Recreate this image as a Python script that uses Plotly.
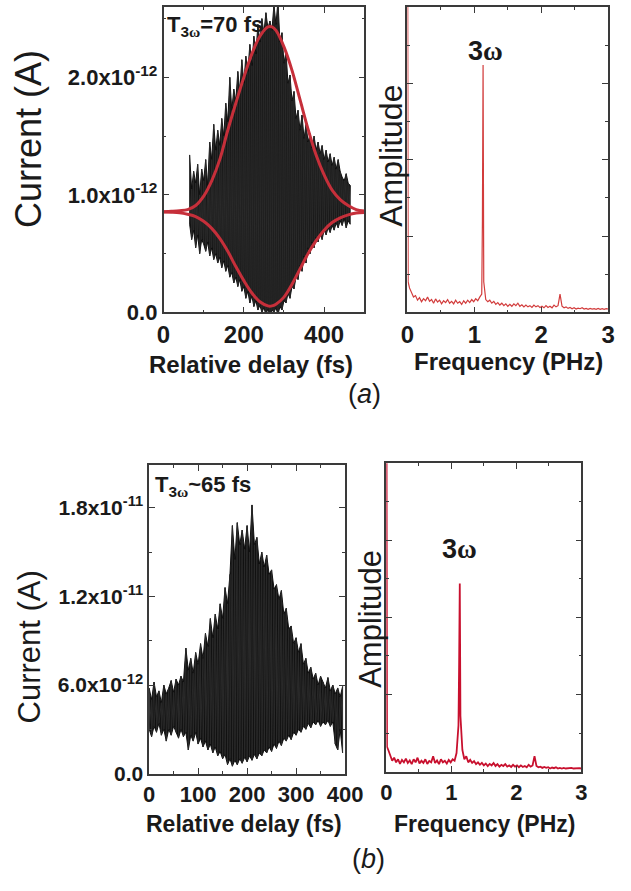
import plotly.graph_objects as go

# ---------------- DATA ----------------
# (a) time trace: delay (fs), upper and lower extremes of the fast oscillation (units 1e-12 A)
delay_a = [65, 70, 75, 80, 85, 90, 95, 100, 105, 110, 115, 120, 125, 130, 135, 140, 145, 150,
           155, 160, 165, 170, 175, 180, 185, 190, 195, 200, 205, 210, 215, 220, 225, 230, 235,
           240, 245, 250, 255, 260, 265, 270, 275, 280, 285, 290, 295, 300, 305, 310, 315, 320,
           325, 330, 335, 340, 345, 350, 355, 360, 365, 370, 375, 380, 385, 390, 395, 400, 405,
           410, 415, 420, 425, 430, 435, 440, 445, 450, 455, 460, 465]
upper_a = [1.34, 1.05, 1.20, 1.10, 1.26, 1.00, 1.22, 1.12, 1.30, 1.08, 1.45, 1.30, 1.60, 1.38,
           1.55, 1.42, 1.65, 1.50, 1.78, 1.62, 2.00, 1.72, 1.90, 1.80, 2.05, 1.88, 2.15, 1.95,
           2.18, 2.05, 2.28, 2.10, 2.35, 2.20, 2.45, 2.30, 2.50, 2.38, 2.55, 2.42, 2.48, 2.40,
           2.62, 2.45, 2.65, 2.30, 2.38, 2.12, 2.22, 1.95, 2.02, 1.80, 1.88, 1.65, 1.72, 1.55,
           1.68, 1.48, 1.60, 1.45, 1.52, 1.40, 1.50, 1.38, 1.45, 1.35, 1.42, 1.30, 1.38, 1.28,
           1.35, 1.25, 1.32, 1.22, 1.30, 1.20, 1.15, 1.12, 1.18, 1.10, 1.08]
lower_a = [0.75, 0.62, 0.70, 0.55, 0.66, 0.50, 0.62, 0.58, 0.52, 0.60, 0.48, 0.55, 0.45, 0.50,
           0.42, 0.47, 0.38, 0.44, 0.35, 0.40, 0.30, 0.34, 0.25, 0.30, 0.22, 0.28, 0.18, 0.22,
           0.12, 0.18, 0.08, 0.14, 0.05, 0.10, 0.02, 0.06, 0.00, 0.04, -0.02, 0.03, -0.03, 0.02,
           0.00, 0.04, -0.02, 0.05, 0.02, 0.10, 0.08, 0.16, 0.12, 0.22, 0.20, 0.30, 0.28, 0.40,
           0.35, 0.48, 0.42, 0.55, 0.50, 0.60, 0.55, 0.64, 0.60, 0.68, 0.62, 0.70, 0.66, 0.72,
           0.68, 0.74, 0.70, 0.76, 0.72, 0.78, 0.74, 0.80, 0.72, 0.78, 0.75]

# (a) fitted envelope (red), units 1e-12 A
env_delay = [0, 20, 40, 60, 80, 100, 120, 140, 160, 180, 200, 220, 240, 260, 270, 280, 300,
             320, 340, 360, 380, 400, 420, 440, 460, 480, 500]
env_upper = [0.857, 0.86, 0.865, 0.875, 0.91, 0.99, 1.12, 1.30, 1.55, 1.78, 2.00, 2.20, 2.35,
             2.43, 2.43, 2.40, 2.26, 2.06, 1.81, 1.56, 1.34, 1.17, 1.04, 0.96, 0.91, 0.875, 0.862]
env_lower = [0.855, 0.853, 0.848, 0.835, 0.815, 0.775, 0.715, 0.63, 0.52, 0.39, 0.27, 0.165,
             0.09, 0.055, 0.055, 0.07, 0.13, 0.24, 0.37, 0.50, 0.61, 0.70, 0.765, 0.805, 0.83,
             0.845, 0.85]

# (b) time trace, units 1e-12 A
delay_b = [0, 5, 10, 15, 20, 25, 30, 35, 40, 45, 50, 55, 60, 65, 70, 75, 80, 85, 90, 95, 100,
           105, 110, 115, 120, 125, 130, 135, 140, 145, 150, 155, 160, 165, 170, 175, 180, 185,
           190, 195, 200, 205, 210, 215, 220, 225, 230, 235, 240, 245, 250, 255, 260, 265, 270,
           275, 280, 285, 290, 295, 300, 305, 310, 315, 320, 325, 330, 335, 340, 345, 350, 355,
           360, 365, 370, 375, 380, 385, 390, 395]
upper_b = [5.8, 5.0, 6.2, 5.2, 5.6, 4.8, 6.0, 5.4, 5.8, 6.3, 5.5, 6.4, 6.0, 6.6, 6.2, 8.5, 7.0,
           7.8, 6.8, 8.2, 7.4, 8.8, 7.8, 9.5, 8.6, 10.5, 9.2, 10.8, 9.8, 11.5, 10.5, 12.6, 11.5,
           13.5, 16.8, 14.5, 17.0, 15.5, 16.5, 15.2, 16.8, 15.0, 18.2, 15.5, 16.0, 14.2, 15.0,
           14.0, 14.8, 13.5, 13.8, 12.5, 12.8, 11.8, 12.4, 10.8, 11.2, 9.8, 10.0, 8.8, 9.2, 8.2,
           8.8, 7.4, 7.8, 6.8, 7.2, 6.4, 6.8, 6.0, 6.6, 6.2, 5.8, 6.5, 5.6, 6.0, 5.4, 5.8, 5.2, 5.9]
lower_b = [3.0, 2.5, 3.2, 2.8, 3.4, 2.6, 3.0, 2.2, 3.0, 2.6, 3.2, 2.8, 2.4, 3.0, 2.5, 2.8, 1.6,
           2.6, 2.2, 2.8, 2.0, 2.4, 1.8, 2.2, 1.6, 2.0, 1.4, 1.8, 1.2, 1.5, 1.0, 1.3, 0.6, 1.0,
           0.5, 0.9, 0.6, 1.0, 0.7, 1.1, 0.8, 1.2, 0.9, 1.3, 1.0, 1.4, 1.2, 1.6, 1.4, 1.8, 1.5,
           2.0, 1.7, 2.2, 1.9, 2.4, 2.2, 2.6, 2.3, 2.8, 2.6, 3.0, 2.8, 3.2, 3.0, 3.4, 3.1, 3.5,
           3.3, 3.6, 3.2, 3.5, 3.3, 3.6, 3.2, 3.5, 2.0, 1.6, 3.0, 1.4]

# spectra: frequency (PHz) and amplitude (arb., full frame = 1)
freq = [0.00, 0.01, 0.03, 0.06, 0.09, 0.12, 0.15, 0.18, 0.21, 0.24, 0.27, 0.30, 0.33, 0.36,
        0.39, 0.42, 0.45, 0.48, 0.51, 0.54, 0.57, 0.60, 0.63, 0.66, 0.69, 0.72, 0.75, 0.78,
        0.81, 0.84, 0.87, 0.90, 0.93, 0.96, 0.99, 1.02, 1.05, 1.08, 1.11, 1.12, 1.13, 1.14,
        1.17, 1.20, 1.23, 1.26, 1.29, 1.32, 1.35, 1.38, 1.41, 1.44, 1.47, 1.50, 1.53, 1.56,
        1.59, 1.62, 1.65, 1.68, 1.71, 1.74, 1.77, 1.80, 1.83, 1.86, 1.89, 1.92, 1.95, 1.98,
        2.01, 2.04, 2.07, 2.10, 2.13, 2.16, 2.19, 2.22, 2.25, 2.28, 2.31, 2.34, 2.37, 2.40,
        2.43, 2.46, 2.49, 2.52, 2.55, 2.58, 2.61, 2.64, 2.67, 2.70, 2.73, 2.76, 2.79, 2.82,
        2.85, 2.88, 2.91, 2.94, 2.97, 3.00]
amp_a = [1.50, 0.10, 0.08, 0.065, 0.05, 0.055, 0.04, 0.048, 0.035, 0.045, 0.038, 0.05, 0.036,
         0.042, 0.03, 0.044, 0.034, 0.04, 0.028, 0.038, 0.032, 0.042, 0.03, 0.036, 0.028, 0.04,
         0.03, 0.035, 0.026, 0.038, 0.03, 0.04, 0.032, 0.042, 0.035, 0.045, 0.038, 0.05, 0.06,
         0.30, 0.81, 0.10, 0.042, 0.035, 0.04, 0.03, 0.036, 0.026, 0.032, 0.024, 0.03, 0.022,
         0.028, 0.02, 0.026, 0.02, 0.028, 0.022, 0.03, 0.02, 0.025, 0.018, 0.024, 0.018, 0.022,
         0.016, 0.024, 0.018, 0.022, 0.016, 0.02, 0.015, 0.022, 0.016, 0.02, 0.015, 0.024, 0.018,
         0.022, 0.06, 0.02, 0.015, 0.018, 0.013, 0.016, 0.012, 0.015, 0.011, 0.014, 0.012, 0.015,
         0.011, 0.013, 0.01, 0.013, 0.011, 0.012, 0.01, 0.013, 0.01, 0.012, 0.01, 0.012, 0.011]
amp_b = [1.50, 0.08, 0.07, 0.05, 0.035, 0.045, 0.03, 0.04, 0.025, 0.038, 0.03, 0.042, 0.028,
         0.036, 0.024, 0.04, 0.03, 0.045, 0.026, 0.035, 0.028, 0.04, 0.025, 0.034, 0.03, 0.05,
         0.028, 0.036, 0.024, 0.04, 0.03, 0.035, 0.026, 0.038, 0.03, 0.04, 0.035, 0.06, 0.15,
         0.35, 0.61, 0.18, 0.07, 0.04, 0.05, 0.03, 0.038, 0.028, 0.034, 0.024, 0.03, 0.022,
         0.028, 0.02, 0.026, 0.018, 0.025, 0.02, 0.028, 0.018, 0.024, 0.016, 0.022, 0.018, 0.024,
         0.016, 0.02, 0.015, 0.022, 0.016, 0.02, 0.014, 0.02, 0.015, 0.018, 0.014, 0.022, 0.016,
         0.02, 0.05, 0.018, 0.014, 0.016, 0.012, 0.015, 0.012, 0.014, 0.01, 0.013, 0.011, 0.014,
         0.01, 0.012, 0.01, 0.012, 0.01, 0.011, 0.01, 0.012, 0.01, 0.011, 0.01, 0.011, 0.01]

SCALE = 1e-12

# ---------------- FIGURE ----------------
W, H = 631, 891
INK = "#111111"


def scaled(vals):
    return [v * SCALE for v in vals]


def zigzag(t, hi, lo):
    xs, ys = [], []
    for ti, h, l in zip(t, hi, lo):
        xs += [ti, ti]
        ys += [h * SCALE, l * SCALE]
    return xs, ys


def add_trace_block(t, hi, lo, xa, ya):
    # solid band between the lower and upper extremes, then the oscillation strokes on top
    fig.add_trace(go.Scatter(x=t, y=scaled(lo), mode="lines", line=dict(color=INK, width=1),
                             xaxis=xa, yaxis=ya))
    fig.add_trace(go.Scatter(x=t, y=scaled(hi), mode="lines", line=dict(color=INK, width=1),
                             fill="tonexty", fillcolor=INK, xaxis=xa, yaxis=ya))
    zx, zy = zigzag(t, hi, lo)
    fig.add_trace(go.Scatter(x=zx, y=zy, mode="lines", line=dict(color="#2a2a2a", width=1),
                             xaxis=xa, yaxis=ya))


fig = go.Figure()

add_trace_block(delay_a, upper_a, lower_a, "x", "y")
fig.add_trace(go.Scatter(x=env_delay, y=scaled(env_upper), mode="lines",
                         line=dict(color="#c62f3a", width=3, shape="spline"), xaxis="x", yaxis="y"))
fig.add_trace(go.Scatter(x=env_delay, y=scaled(env_lower), mode="lines",
                         line=dict(color="#c62f3a", width=3, shape="spline"), xaxis="x", yaxis="y"))
fig.add_trace(go.Scatter(x=freq, y=amp_a, mode="lines", line=dict(color="#d23c3c", width=1.2),
                         xaxis="x2", yaxis="y2"))
add_trace_block(delay_b, upper_b, lower_b, "x3", "y3")
fig.add_trace(go.Scatter(x=freq, y=amp_b, mode="lines", line=dict(color="#c8102e", width=1.8),
                         xaxis="x4", yaxis="y4"))


def dom_x(a, b):
    return [a / W, b / W]


def dom_y(top, bottom):
    return [1 - bottom / H, 1 - top / H]


FONT = "Liberation Sans"
AX = dict(showline=True, linecolor="#3a3a3a", linewidth=1.5, mirror="allticks", ticks="inside",
          ticklen=6, tickwidth=1.2, tickcolor="#3a3a3a", showgrid=False, zeroline=False,
          fixedrange=True)


def tf(size):
    return dict(family=FONT, size=size, color="#1a1a1a", weight="bold")


fig.update_layout(
    width=W, height=H, margin=dict(l=0, r=0, t=0, b=0),
    paper_bgcolor="white", plot_bgcolor="white", showlegend=False,
    xaxis=dict(AX, domain=dom_x(163, 372), anchor="y", range=[0, 500],
               tickvals=[0, 200, 400], ticktext=["0", "200", "400"], tickfont=tf(24),
               minor=dict(ticks="inside", ticklen=3, tickvals=[100, 300], tickcolor="#3a3a3a")),
    yaxis=dict(AX, domain=dom_y(7, 317), anchor="x", range=[0, 2.6e-12],
               tickvals=[0, 1e-12, 2e-12],
               ticktext=["0.0", "1.0x10<sup>-12</sup>", "2.0x10<sup>-12</sup>"], tickfont=tf(22),
               minor=dict(ticks="inside", ticklen=3, tickvals=[0.5e-12, 1.5e-12, 2.5e-12],
                          tickcolor="#3a3a3a")),
    xaxis2=dict(AX, domain=dom_x(417, 626), anchor="y2", range=[0, 3],
                tickvals=[0, 1, 2, 3], ticktext=["0", "1", "2", "3"], tickfont=tf(24),
                minor=dict(ticks="inside", ticklen=3, tickvals=[0.5, 1.5, 2.5], tickcolor="#3a3a3a")),
    yaxis2=dict(AX, domain=dom_y(7, 317), anchor="x2", range=[0, 1], showticklabels=False,
                tickvals=[0.25, 0.5, 0.75],
                minor=dict(ticks="inside", ticklen=3, tickvals=[0.125, 0.375, 0.625, 0.875],
                           tickcolor="#3a3a3a")),
    xaxis3=dict(AX, domain=dom_x(148, 352), anchor="y3", range=[0, 400],
                tickvals=[0, 100, 200, 300, 400], ticktext=["0", "100", "200", "300", "400"],
                tickfont=tf(22),
                minor=dict(ticks="inside", ticklen=3, tickvals=[50, 150, 250, 350],
                           tickcolor="#3a3a3a")),
    yaxis3=dict(AX, domain=dom_y(472, 785), anchor="x3", range=[0, 2.09e-11],
                tickvals=[0, 6e-12, 1.2e-11, 1.8e-11],
                ticktext=["0.0", "6.0x10<sup>-12</sup>", "1.2x10<sup>-11</sup>", "1.8x10<sup>-11</sup>"],
                tickfont=tf(21),
                minor=dict(ticks="inside", ticklen=3, tickvals=[3e-12, 9e-12, 1.5e-11],
                           tickcolor="#3a3a3a")),
    xaxis4=dict(AX, domain=dom_x(395, 598), anchor="y4", range=[0, 3],
                tickvals=[0, 1, 2, 3], ticktext=["0", "1", "2", "3"], tickfont=tf(22),
                minor=dict(ticks="inside", ticklen=3, tickvals=[0.5, 1.5, 2.5], tickcolor="#3a3a3a")),
    yaxis4=dict(AX, domain=dom_y(470, 783), anchor="x4", range=[0, 1], showticklabels=False,
                tickvals=[0.25, 0.5, 0.75],
                minor=dict(ticks="inside", ticklen=3, tickvals=[0.125, 0.375, 0.625, 0.875],
                           tickcolor="#3a3a3a")),
)


def ann(text, x, y, size, bold=False, angle=0, xanchor="center"):
    f = dict(family=FONT, size=size, color="#1a1a1a")
    if bold:
        f["weight"] = "bold"
    fig.add_annotation(text=text, x=x / W, y=1 - y / H, xref="paper", yref="paper",
                       showarrow=False, font=f, textangle=angle, xanchor=xanchor,
                       yanchor="middle")


OMEGA = "<span style='font-family:Liberation Serif'>ω</span>"
# axis titles
ann("Current (A)", 23, 141, 36, angle=-90)
ann("Current (A)", 23, 657, 31, angle=-90)
ann("Amplitude", 400, 158, 32, angle=-90)
ann("Amplitude", 379, 628, 31, angle=-90)
ann("Relative delay (fs)", 254, 370, 24, bold=True)
ann("Relative delay (fs)", 247, 836, 23, bold=True)
ann("Frequency (PHz)", 522, 367, 24, bold=True)
ann("Frequency (PHz)", 497, 836, 23, bold=True)
# in-plot labels
ann("T<sub>3" + OMEGA + "</sub>=70 fs", 165, 26, 22, bold=True, xanchor="left")
ann("T<sub>3" + OMEGA + "</sub>~65 fs", 152, 493, 22, bold=True, xanchor="left")
ann("3" + OMEGA, 498, 52, 27, bold=True)
ann("3" + OMEGA, 471, 557, 27, bold=True)
# panel labels
ann("(<i>a</i>)", 372, 400, 27)
ann("(<i>b</i>)", 376, 872, 27)

fig.write_html("out.html")
